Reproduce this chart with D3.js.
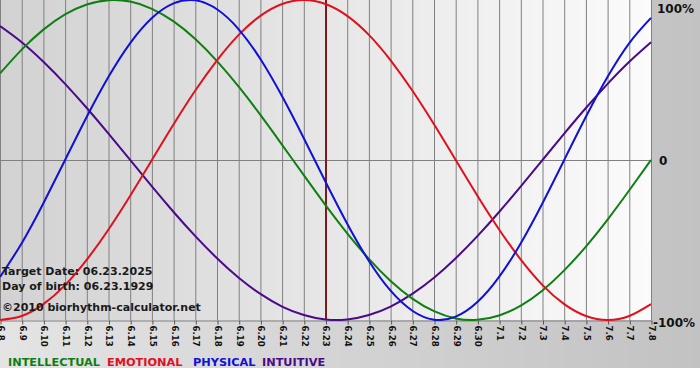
<!DOCTYPE html>
<html><head><meta charset="utf-8">
<script src="https://cdn.jsdelivr.net/npm/d3@7"></script>
<style>html,body{margin:0;padding:0;background:#fff;}svg{display:block;}</style>
</head><body>
<script>
const dates = ["6.8","6.9","6.10","6.11","6.12","6.13","6.14","6.15","6.16","6.17","6.18","6.19","6.20","6.21","6.22","6.23","6.24","6.25","6.26","6.27","6.28","6.29","6.30","7.1","7.2","7.3","7.4","7.5","7.6","7.7","7.8"];
const physical = [-0.731,-0.520,-0.270,0,0.270,0.520,0.731,0.888,0.979,0.998,0.942,0.817,0.631,0.398,0.136,-0.136,-0.398,-0.631,-0.817,-0.942,-0.998,-0.979,-0.888,-0.731,-0.520,-0.270,0,0.270,0.520,0.731,0.888];
const emotional = [-1,-0.975,-0.901,-0.782,-0.623,-0.434,-0.223,0,0.223,0.434,0.623,0.782,0.901,0.975,1,0.975,0.901,0.782,0.623,0.434,0.223,0,-0.223,-0.434,-0.623,-0.782,-0.901,-0.975,-1,-0.975,-0.901];
const intellectual = [0.541,0.690,0.815,0.910,0.972,0.999,0.990,0.945,0.866,0.756,0.618,0.458,0.282,0.095,-0.095,-0.282,-0.458,-0.618,-0.756,-0.866,-0.945,-0.990,-0.999,-0.972,-0.910,-0.815,-0.690,-0.541,-0.372,-0.189,0];
const intuitive = [0.837,0.736,0.614,0.476,0.325,0.165,0,-0.165,-0.325,-0.476,-0.614,-0.736,-0.837,-0.916,-0.969,-0.997,-0.997,-0.969,-0.916,-0.837,-0.736,-0.614,-0.476,-0.325,-0.165,0,0.165,0.325,0.476,0.614,0.736];
const yTicks = [1, 0, -1];
const yTickLabels = ["100%", "0", "-100%"];
const targetDate = "6.23";
const infoLines = ["Target Date: 06.23.2025", "Day of birth: 06.23.1929", "\u00a92010 biorhythm-calculator.net"];
const legendNames = ["INTELLECTUAL", "EMOTIONAL", "PHYSICAL", "INTUITIVE"];

const W = 700, H = 380;
const plot = {left: 0, right: 651, top: 0, bottom: 320};
const colors = {INTELLECTUAL: "#0f7f12", EMOTIONAL: "#e0101c", PHYSICAL: "#1010d8", INTUITIVE: "#4a0a8a"};
const seriesMap = {INTELLECTUAL: intellectual, EMOTIONAL: emotional, PHYSICAL: physical, INTUITIVE: intuitive};

const svg = d3.select("body").append("svg").attr("width", W).attr("height", H);
const defs = svg.append("defs");
const bg = defs.append("linearGradient").attr("id", "bg").attr("x1", 0).attr("x2", 1).attr("y1", 0).attr("y2", 0);
bg.append("stop").attr("offset", 0).attr("stop-color", "#e4e4e4");
bg.append("stop").attr("offset", 1).attr("stop-color", "#c2c2c2");
const pg = defs.append("linearGradient").attr("id", "pg").attr("x1", 0).attr("x2", 1).attr("y1", 0).attr("y2", 0);
pg.append("stop").attr("offset", 0).attr("stop-color", "#d2d2d2");
pg.append("stop").attr("offset", 1).attr("stop-color", "#fbfbfb");
defs.append("clipPath").attr("id", "clip").append("rect")
  .attr("x", plot.left).attr("y", plot.top - 1).attr("width", plot.right - plot.left + 1).attr("height", plot.bottom - plot.top + 2);

svg.append("rect").attr("width", W).attr("height", 368).attr("fill", "url(#bg)");
svg.append("rect").attr("y", 368).attr("width", W).attr("height", 12).attr("fill", "#ffffff");
svg.append("rect").attr("x", plot.left).attr("y", plot.top).attr("width", plot.right - plot.left).attr("height", plot.bottom - plot.top).attr("fill", "url(#pg)");

const x = d3.scalePoint().domain(dates).range([plot.left, plot.right]);
const y = d3.scaleLinear().domain([-1, 1]).range([plot.bottom, plot.top]);

// vertical grid
svg.append("g").selectAll("line").data(dates).join("line")
  .attr("x1", d => x(d) + 0.5).attr("x2", d => x(d) + 0.5)
  .attr("y1", plot.top).attr("y2", plot.bottom)
  .attr("stroke", "#808080").attr("stroke-width", 1);
// zero line
svg.append("line").attr("x1", plot.left).attr("x2", plot.right).attr("y1", y(0) + 0.5).attr("y2", y(0) + 0.5)
  .attr("stroke", "#808080");

// x axis
const xAxis = svg.append("g").attr("transform", `translate(0.5,${plot.bottom + 0.5})`)
  .call(d3.axisBottom(x).tickSize(4).tickSizeOuter(0));
xAxis.select(".domain").attr("stroke", "#808080");
xAxis.selectAll(".tick line").attr("stroke", "#555");
xAxis.selectAll(".tick text")
  .attr("transform", "rotate(90)")
  .attr("x", 5).attr("y", 0).attr("dy", "0.35em")
  .attr("text-anchor", "start")
  .style("font-family", "'DejaVu Sans', Verdana, sans-serif")
  .style("font-size", "8.6px").style("font-weight", "bold").attr("fill", "#111");

// target line
svg.append("line").attr("x1", x(targetDate) + 0.5).attr("x2", x(targetDate) + 0.5)
  .attr("y1", plot.top).attr("y2", plot.bottom)
  .attr("stroke", "#7a1c1c").attr("stroke-width", 2);

// curves
const line = d3.line().x((d, i) => x(dates[i])).y(d => y(d)).curve(d3.curveNatural);
const cg = svg.append("g").attr("clip-path", "url(#clip)");
["INTUITIVE", "INTELLECTUAL", "EMOTIONAL", "PHYSICAL"].forEach(name => {
  cg.append("path").datum(seriesMap[name]).attr("d", line)
    .attr("fill", "none").attr("stroke", colors[name]).attr("stroke-width", 2);
});

// y labels
svg.append("g").selectAll("text").data(yTicks).join("text")
  .attr("x", (d, i) => i === 1 ? 659 : (i === 0 ? 657 : 653))
  .attr("y", d => y(d))
  .attr("dy", (d, i) => i === 0 ? "1.05em" : (i === 1 ? "0.45em" : "0.55em"))
  .text((d, i) => yTickLabels[i])
  .style("font-family", "'DejaVu Sans', Verdana, sans-serif")
  .style("font-size", "12px").style("font-weight", "bold").attr("fill", "#111");

// info
svg.append("g").selectAll("text").data(infoLines).join("text")
  .attr("x", 2).attr("y", (d, i) => [275, 290, 311][i])
  .text(d => d)
  .style("font-family", "'DejaVu Sans', Verdana, sans-serif")
  .style("font-size", "11px").style("font-weight", "bold").attr("fill", "#1a1a1a");

// legend
const legendX = [8, 107, 193, 262];
svg.append("g").selectAll("text").data(legendNames).join("text")
  .attr("x", (d, i) => legendX[i]).attr("y", 366)
  .text(d => d).attr("fill", d => colors[d])
  .style("font-family", "'DejaVu Sans', Verdana, sans-serif")
  .style("font-size", "11.3px").style("font-weight", "bold");
</script>
</body></html>
